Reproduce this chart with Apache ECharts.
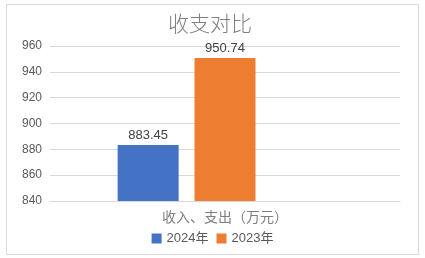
<!DOCTYPE html>
<html><head><meta charset="utf-8">
<script src="https://cdn.jsdelivr.net/npm/echarts@6/dist/echarts.min.js"></script>
<style>html,body{margin:0;padding:0;background:#fff}#c{width:425px;height:258px}</style>
</head><body><div id="c"></div>
<script>
const categories = ['收入、支出（万元）'];
const series2024 = [883.45];
const series2023 = [950.74];
const seriesNames = ['2024年', '2023年'];
const yTicks = { min: 840, max: 960, interval: 20 };

const chart = echarts.init(document.getElementById('c'));
const font = "'Liberation Sans', 'Noto Sans CJK SC', sans-serif";
chart.setOption({
  animation: false,
  textStyle: { fontFamily: font },
  graphic: [{ type: 'rect', shape: { x: 6.5, y: 4.5, width: 412, height: 250 }, style: { fill: 'none', stroke: '#d9d9d9', lineWidth: 1 } }],
  title: { text: '收支对比', left: 205, top: 8, textAlign: 'center', textStyle: { fontSize: 21, fontWeight: 300, color: '#808080', fontFamily: "'Noto Sans CJK SC', sans-serif" } },
  legend: { data: seriesNames, bottom: 8, left: 'center', itemWidth: 10, itemHeight: 10, itemGap: 8, icon: 'rect', textStyle: { fontSize: 13, color: '#595959' } },
  grid: { left: 50, right: 25, top: 46, bottom: 57 },
  xAxis: { type: 'category', data: categories, axisTick: { show: false }, axisLine: { lineStyle: { color: '#d9d9d9' } }, axisLabel: { color: '#7f7f7f', fontSize: 14, margin: 10 } },
  yAxis: { type: 'value', min: yTicks.min, max: yTicks.max, interval: yTicks.interval, axisLine: { show: false }, axisTick: { show: false }, splitLine: { lineStyle: { color: '#d9d9d9' } }, axisLabel: { color: '#595959', fontSize: 12, margin: 8 } },
  series: [
    { name: seriesNames[0], type: 'bar', data: series2024, barWidth: 61, barGap: '26%', itemStyle: { color: '#4472C4' }, label: { show: true, position: 'top', distance: 3, color: '#404040', fontSize: 13 } },
    { name: seriesNames[1], type: 'bar', data: series2023, barWidth: 61, barGap: '26%', itemStyle: { color: '#ED7D31' }, label: { show: true, position: 'top', distance: 3, color: '#404040', fontSize: 13 } },
    { name: 'empty', type: 'bar', data: ['-'], barWidth: 61, barGap: '26%' }
  ]
});
</script></body></html>
